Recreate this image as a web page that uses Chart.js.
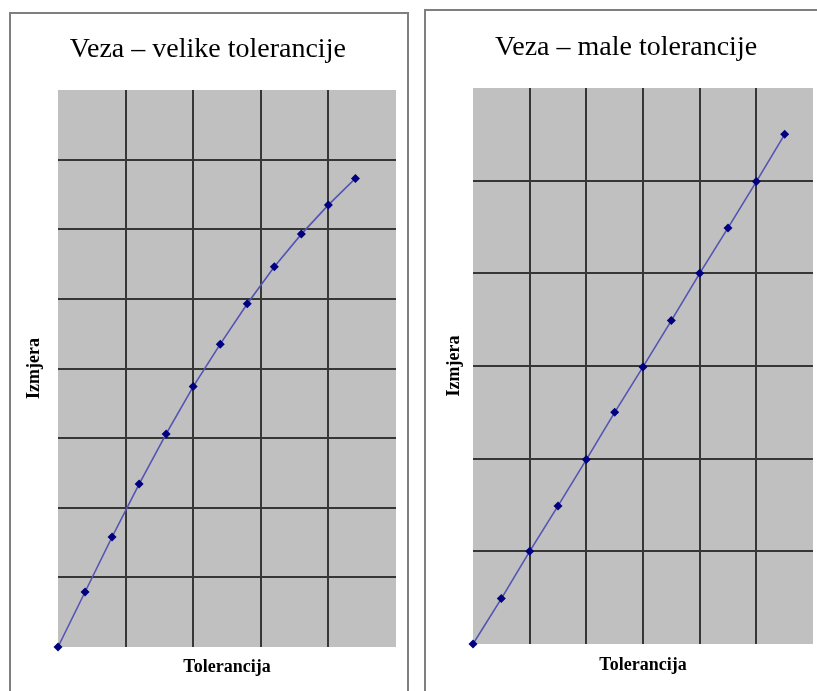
<!DOCTYPE html>
<html>
<head>
<meta charset="utf-8">
<script src="https://cdn.jsdelivr.net/npm/chart.js@4.4.0/dist/chart.umd.min.js"></script>
<style>
  html, body { margin: 0; padding: 0; background: #fff; overflow: hidden; }
  body { width: 817px; height: 691px; position: relative; }
  .box { position: absolute; box-sizing: border-box; border: 2px solid #7f7f7f; }
  canvas { position: absolute; }
</style>
</head>
<body>
<div class="box" style="left:9px; top:12px; width:400px; height:700px;"></div>
<div class="box" style="left:424px; top:9px; width:420px; height:700px;"></div>
<canvas id="chartVelike" width="401" height="677" style="left:11px; top:14px;"></canvas>
<canvas id="chartMale" width="412" height="679" style="left:427px; top:12px;"></canvas>
<script>
// podaci - velike tolerancije (jedinice = polja mreze)
const velikeX = [0, 0.4, 0.8, 1.2, 1.6, 2.0, 2.4, 2.8, 3.2, 3.6, 4.0, 4.4];
const velikeY = [0, 0.79, 1.58, 2.34, 3.06, 3.74, 4.35, 4.93, 5.46, 5.93, 6.35, 6.73];

// podaci - male tolerancije
const maleX = [0, 0.5, 1.0, 1.5, 2.0, 2.5, 3.0, 3.5, 4.0, 4.5, 5.0, 5.5];
const maleY = [0, 0.49, 1.0, 1.49, 1.99, 2.5, 2.99, 3.49, 4.0, 4.49, 4.99, 5.5];

const naslovi = ['Veza – velike tolerancije', 'Veza – male tolerancije'];
const osX = 'Tolerancija';
const osY = 'Izmjera';

// siva pozadina podrucja grafa
const plotBg = {
  id: 'plotBg',
  beforeDraw(chart) {
    const a = chart.chartArea;
    const c = chart.ctx;
    c.save();
    c.fillStyle = '#c0c0c0';
    c.fillRect(a.left, a.top, a.right - a.left, a.bottom - a.top);
    c.restore();
  }
};

function gridColor(max) {
  return ctx => (ctx.tick.value <= 0 || ctx.tick.value >= max) ? 'rgba(0,0,0,0)' : '#363636';
}

function napravi(id, xs, ys, naslov, xMax, yMax, p) {
  const points = xs.map((x, i) => ({ x: x, y: ys[i] }));
  return new Chart(document.getElementById(id), {
    type: 'line',
    data: {
      datasets: [{
        data: points,
        borderColor: '#5454b4',
        borderWidth: 1.6,
        pointStyle: 'rectRot',
        pointRadius: 4.5,
        pointBackgroundColor: '#000080',
        pointBorderColor: '#000080',
        pointBorderWidth: 0,
        tension: 0,
        clip: false
      }]
    },
    options: {
      responsive: false,
      animation: false,
      layout: { padding: p.layout },
      plugins: {
        legend: { display: false },
        tooltip: { enabled: false },
        title: {
          display: true,
          text: naslov,
          color: '#000',
          font: { family: 'Liberation Serif', size: 28, weight: 'normal' },
          padding: p.title
        }
      },
      scales: {
        x: {
          type: 'linear',
          min: 0,
          max: xMax,
          border: { display: false },
          grid: { color: gridColor(xMax), lineWidth: 2, drawTicks: false },
          ticks: { display: false, stepSize: 1 },
          title: {
            display: true,
            text: osX,
            color: '#000',
            font: { family: 'Liberation Serif', size: 18, weight: 'bold' },
            padding: p.xTitle
          }
        },
        y: {
          type: 'linear',
          min: 0,
          max: yMax,
          border: { display: false },
          grid: { color: gridColor(yMax), lineWidth: 2, drawTicks: false },
          ticks: { display: false, stepSize: 1 },
          title: {
            display: true,
            text: osY,
            color: '#000',
            font: { family: 'Liberation Serif', size: 18, weight: 'bold' },
            padding: p.yTitle
          }
        }
      }
    },
    plugins: [plotBg]
  });
}

napravi('chartVelike', velikeX, velikeY, naslovi[0], 5, 8, {
  layout: { left: 8.7, right: 16, top: 0, bottom: 8.4 },
  title: { top: 19, bottom: 23.4 },
  xTitle: { top: 10, bottom: 4 },
  yTitle: { top: 4, bottom: 12.7 }
});

napravi('chartMale', maleX, maleY, naslovi[1], 6, 6, {
  layout: { left: 12.2, right: 26, top: 0, bottom: 10.9 },
  title: { top: 19, bottom: 23.4 },
  xTitle: { top: 10.5, bottom: 4 },
  yTitle: { top: 4, bottom: 8.2 }
});
</script>
</body>
</html>
